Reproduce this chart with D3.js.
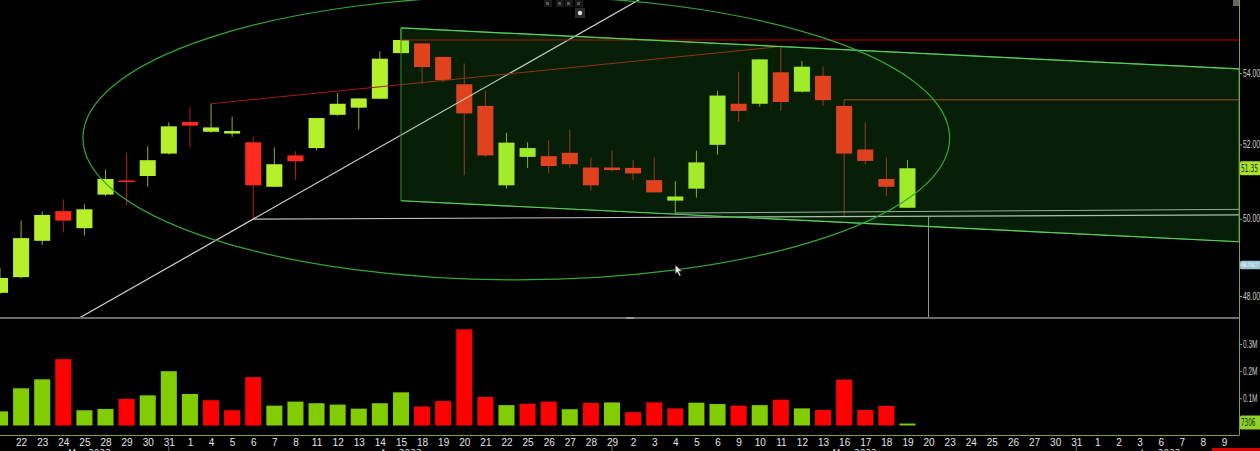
<!DOCTYPE html>
<html>
<head>
<meta charset="utf-8">
<script src="https://cdn.jsdelivr.net/npm/d3@7"></script>
<style>
  html, body { margin: 0; padding: 0; background: #000; overflow: hidden; }
  svg { display: block; font-family: 'DejaVu Sans Condensed', 'DejaVu Sans', sans-serif; }
</style>
</head>
<body>
<svg id="chart" width="1260" height="451"></svg>
<script>
// trading days on the axis (Mar 21 -> Jun 9 2022), candles stop at May 19
const days = [21, 22, 23, 24, 25, 28, 29, 30, 31,
  1, 4, 5, 6, 7, 8, 11, 12, 13, 14, 15, 18, 19, 20, 21, 22, 25, 26, 27, 28, 29,
  2, 3, 4, 5, 6, 9, 10, 11, 12, 13, 16, 17, 18, 19, 20, 23, 24, 25, 26, 27, 30, 31,
  1, 2, 3, 6, 7, 8, 9]
const months = ['Mar 2022', 'Apr 2022', 'May 2022', 'Jun 2022']

const opens = [48.08, 48.48, 49.42, 50.20, 49.75, 50.64, 51.02, 51.14, 51.75,
  52.62, 52.35, 52.30, 52.06, 50.85, 51.70, 51.90, 52.82, 53.02, 53.27, 54.57,
  54.85, 54.46, 53.68, 53.07, 50.89, 51.66, 51.68, 51.77, 51.37, 51.37,
  51.36, 51.03, 50.48, 50.80, 51.99, 53.13, 53.13, 54.02, 53.47, 53.92,
  53.07, 51.86, 51.06, 50.29]
const highs = [48.72, 49.95, 50.19, 50.51, 50.38, 51.32, 51.76, 51.95, 52.61,
  53.03, 53.13, 52.77, 52.21, 51.92, 51.81, 52.73, 53.43, 53.28, 54.62, 55.30,
  54.86, 54.47, 54.27, 53.49, 52.32, 52.06, 52.11, 52.41, 51.64, 51.83,
  51.57, 51.64, 51.00, 51.83, 53.49, 54.04, 54.39, 54.76, 54.34, 54.18,
  53.24, 52.61, 51.64, 51.57]
const lows = [48.05, 48.45, 49.31, 49.64, 49.56, 50.60, 50.35, 50.85, 51.72,
  51.91, 52.32, 52.21, 49.99, 50.84, 51.04, 51.84, 52.79, 52.42, 53.26, 54.56,
  53.69, 53.73, 51.16, 51.66, 50.80, 51.36, 51.21, 51.36, 50.76, 51.27,
  51.03, 50.70, 50.12, 50.56, 51.72, 52.63, 53.05, 52.93, 53.45, 53.08,
  50.04, 51.46, 50.60, 50.29]
const closes = [48.46, 49.49, 50.10, 49.95, 50.25, 51.06, 51.00, 51.57, 52.50,
  52.52, 52.47, 52.37, 50.89, 51.46, 51.54, 52.73, 53.13, 53.28, 54.41, 54.95,
  54.17, 53.80, 52.86, 51.70, 52.05, 51.90, 51.41, 51.46, 50.89, 51.30,
  51.21, 50.70, 50.59, 51.51, 53.36, 52.93, 54.39, 53.18, 54.18, 53.23,
  51.75, 51.55, 50.85, 51.35]
const volumes = [52000, 137000, 170000, 244000, 56000, 61000, 98000, 111000, 200000,
  116000, 93000, 56000, 178000, 73000, 88000, 82000, 77000, 62000, 82000, 122000,
  70000, 90000, 354000, 105000, 75000, 80000, 88000, 60000, 83000, 85000,
  49000, 85000, 63000, 84000, 79000, 73000, 75000, 95000, 63000, 57000,
  169000, 57000, 72000, 7306]

const priceTicks = [48, 50, 52, 54]
const volumeTicks = [100000, 200000, 300000]
const cursorPrice = 48.7917

// drawings, anchored as [bar index, price]
const supportRay = [[12, 49.99], [22, 53.26]]
const highTrend = [[10, 53.13], [37, 54.76]]
const redLevel = [19, 54.95]
const orangeLevel = [40, 53.24]
const flatA = [[12, 49.99], [58, 50.10]]
const flatB = [[32, 50.15], [58, 50.245]]
const channelTop = [[19, 55.30], [37, 54.76]]
const channelLowAnchor = [32, 50.12]
const ellipseBox = { i0: 3.93, i1: 45, pTop: 56.24, pBottom: 48.41 }
const markerIndex = 44

const W = 1260
const axisX = 1239
const priceBottom = 318
const volBase = 425.5
const axisY = 435

const svg = d3.select('#chart')
svg.append('rect').attr('width', W).attr('height', 451).attr('fill', '#000')

const x = d3.scaleLinear().domain([0, days.length - 1]).range([0, 1224])
const step = x(1) - x(0)
const bw = step * 0.76
const y = d3.scaleLog().domain([48, 54]).range([296, 73])
const yv = d3.scaleLinear().domain([0, 300000]).range([volBase, 344])

const defs = svg.append('defs')
defs.append('clipPath').attr('id', 'pclip')
  .append('rect').attr('x', 0).attr('y', 0).attr('width', axisX).attr('height', priceBottom)
defs.append('clipPath').attr('id', 'vclip')
  .append('rect').attr('x', 0).attr('y', priceBottom + 1).attr('width', axisX).attr('height', axisY - priceBottom - 1)

const candles = closes.map((c, i) => ({
  i, o: opens[i], h: highs[i], l: lows[i], c, v: volumes[i],
  up: c >= opens[i],
  volUp: i === 0 || c >= closes[i - 1]
}))

// ---- price panel
const pg = svg.append('g').attr('clip-path', 'url(#pclip)')

const pt = (d) => [x(d[0]), y(d[1])]
const lineThrough = (a, b, x0, x1) => {
  const [ax, ay] = pt(a)
  const [bx, by] = pt(b)
  const k = (by - ay) / (bx - ax)
  return [[x0, ay + k * (x0 - ax)], [x1, ay + k * (x1 - ax)]]
}

const wicks = pg.append('g')
wicks.selectAll('line')
  .data(candles)
  .join('line')
  .attr('x1', d => x(d.i))
  .attr('x2', d => x(d.i))
  .attr('y1', d => y(d.h))
  .attr('y2', d => y(d.l))
  .attr('stroke', d => d.up ? '#8fae2a' : '#b02418')
  .attr('stroke-width', 1)

pg.append('g').selectAll('rect')
  .data(candles)
  .join('rect')
  .attr('x', d => x(d.i) - bw / 2)
  .attr('y', d => y(Math.max(d.o, d.c)))
  .attr('width', bw)
  .attr('height', d => Math.max(1.5, Math.abs(y(d.o) - y(d.c))))
  .attr('fill', d => d.up ? '#b6f02c' : '#ff2a1e')

// white ray from the Apr 6 low
const ray = lineThrough(supportRay[0], supportRay[1], 0, axisX)
pg.append('path').attr('d', d3.line()(ray))
  .attr('stroke', '#d2d2d2').attr('stroke-width', 1.2).attr('fill', 'none')

// nearly flat support lines
const fa = lineThrough(flatA[0], flatA[1], x(flatA[0][0]), axisX)
pg.append('path').attr('d', d3.line()(fa))
  .attr('stroke', '#bdbdbd').attr('stroke-width', 1.2).attr('fill', 'none')
const fb = lineThrough(flatB[0], flatB[1], x(flatB[0][0]), axisX)
pg.append('path').attr('d', d3.line()(fb))
  .attr('stroke', '#a8a8a8').attr('stroke-width', 1).attr('fill', 'none')
pg.append('line')
  .attr('x1', x(markerIndex)).attr('x2', x(markerIndex))
  .attr('y1', fa[0][1] + (fa[1][1] - fa[0][1]) * (x(markerIndex) - fa[0][0]) / (fa[1][0] - fa[0][0]))
  .attr('y2', priceBottom)
  .attr('stroke', '#9a9a9a').attr('stroke-width', 1)

// red / orange levels and the high trend line
pg.append('line')
  .attr('x1', x(redLevel[0])).attr('x2', axisX)
  .attr('y1', y(redLevel[1])).attr('y2', y(redLevel[1]))
  .attr('stroke', '#b80000').attr('stroke-width', 1)
pg.append('line')
  .attr('x1', x(orangeLevel[0])).attr('x2', axisX)
  .attr('y1', y(orangeLevel[1])).attr('y2', y(orangeLevel[1]))
  .attr('stroke', '#b23c12').attr('stroke-width', 1)
pg.append('path').attr('d', d3.line()(highTrend.map(pt)))
  .attr('stroke', '#a01c0c').attr('stroke-width', 1).attr('fill', 'none')

// channel
const chTop = lineThrough(channelTop[0], channelTop[1], x(channelTop[0][0]), axisX)
const kTop = (chTop[1][1] - chTop[0][1]) / (chTop[1][0] - chTop[0][0])
const off = y(channelLowAnchor[1]) - (chTop[0][1] + kTop * (x(channelLowAnchor[0]) - chTop[0][0]))
const poly = [chTop[0], chTop[1], [chTop[1][0], chTop[1][1] + off], [chTop[0][0], chTop[0][1] + off]]
pg.append('path').attr('d', d3.line()(poly) + 'Z')
  .attr('fill', 'rgb(35,213,35)').attr('fill-opacity', 0.14)
  .attr('stroke', '#2f8f2f').attr('stroke-width', 1)
pg.append('path').attr('d', d3.line()(chTop))
  .attr('stroke', '#5ccc5c').attr('stroke-width', 1.2).attr('fill', 'none')
pg.append('path').attr('d', d3.line()(poly.slice(2)))
  .attr('stroke', '#5ccc5c').attr('stroke-width', 1.2).attr('fill', 'none')

// ellipse
const ex0 = x(ellipseBox.i0)
const ex1 = x(ellipseBox.i1)
const ey0 = y(ellipseBox.pTop)
const ey1 = y(ellipseBox.pBottom)
pg.append('ellipse')
  .attr('cx', (ex0 + ex1) / 2).attr('cy', (ey0 + ey1) / 2)
  .attr('rx', (ex1 - ex0) / 2).attr('ry', (ey1 - ey0) / 2)
  .attr('fill', 'none').attr('stroke', '#34a834').attr('stroke-width', 1.2)

// mouse cursor
const cy = y(cursorPrice)
const cx = x(32)
svg.append('path')
  .attr('d', `M${cx},${cy} l0,9 l2,-2 l2,4 l1.5,-0.8 l-2,-4 l3,0 Z`)
  .attr('fill', '#eee').attr('stroke', '#222').attr('stroke-width', 0.5)

// ---- volume panel
const vg = svg.append('g').attr('clip-path', 'url(#vclip)')
vg.selectAll('rect')
  .data(candles)
  .join('rect')
  .attr('x', d => x(d.i) - bw / 2)
  .attr('y', d => Math.min(yv(d.v), volBase - 1.2))
  .attr('width', bw)
  .attr('height', d => Math.max(1.2, volBase - yv(d.v)))
  .attr('fill', d => d.volUp ? '#82cc02' : '#ff0000')

// ---- separators and axes
svg.append('line').attr('x1', 0).attr('x2', axisX).attr('y1', priceBottom).attr('y2', priceBottom)
  .attr('stroke', '#6c6c6c').attr('stroke-width', 2)
svg.append('rect').attr('x', 626).attr('y', priceBottom - 1).attr('width', 8).attr('height', 2).attr('fill', '#999')
svg.append('line').attr('x1', axisX + 0.5).attr('x2', axisX + 0.5).attr('y1', 0).attr('y2', axisY)
  .attr('stroke', '#8a9a34').attr('stroke-width', 1)
svg.append('line').attr('x1', 0).attr('x2', axisX + 0.5).attr('y1', axisY + 0.5).attr('y2', axisY + 0.5)
  .attr('stroke', '#8a9a34').attr('stroke-width', 1)

// right-axis labels are squeezed into the narrow strip past the axis line
const squeeze = (sel) => sel
  .attr('textLength', function () { return Math.min(17, this.textContent.length * 3.6) })
  .attr('lengthAdjust', 'spacingAndGlyphs')

const styleAxis = (g) => {
  g.select('.domain').remove()
  g.selectAll('.tick line').attr('stroke', '#9aa84a')
  g.selectAll('.tick text').attr('fill', '#cfcfcf').attr('font-size', 10).call(squeeze)
}

svg.append('g')
  .attr('transform', `translate(${axisX},0)`)
  .call(d3.axisRight(y).tickValues(priceTicks).tickFormat(d3.format('.2f')).tickSize(3).tickPadding(1))
  .call(styleAxis)

svg.append('g')
  .attr('transform', `translate(${axisX},0)`)
  .call(d3.axisRight(yv).tickValues(volumeTicks).tickFormat(d => d3.format('.1f')(d / 1e6) + 'M').tickSize(3).tickPadding(1))
  .call(styleAxis)

svg.append('g')
  .attr('transform', `translate(0,${axisY})`)
  .call(d3.axisBottom(x).tickValues(d3.range(1, days.length)).tickFormat(i => days[i]).tickSize(0).tickPadding(4))
  .call(g => {
    g.select('.domain').remove()
    g.selectAll('.tick text').attr('fill', '#e4e4e4').attr('font-size', 10)
  })

// month captions, centred on each month's visible span
let monthIdx = 0
const spans = [{ start: 0, end: 0 }]
days.forEach((d, i) => {
  if (i > 0 && d < days[i - 1]) {
    monthIdx++
    spans.push({ start: i, end: i })
  }
  spans[monthIdx].end = i
})
spans.forEach((s, k) => {
  const a = Math.max(0, x(s.start) - step / 2)
  const b = Math.min(axisX, x(s.end) + step / 2)
  svg.append('text')
    .attr('x', (a + b) / 2).attr('y', 457)
    .attr('text-anchor', 'middle')
    .attr('fill', '#cfcfcf').attr('font-size', 10)
    .text(months[k])
  if (k < spans.length - 1) {
    svg.append('line')
      .attr('x1', x(s.end)).attr('x2', x(s.end)).attr('y1', 446).attr('y2', 451)
      .attr('stroke', '#666').attr('stroke-width', 1)
  }
})

// value flags on the right axis
const flag = (yy, txt, fill, color, size) => {
  svg.append('rect').attr('x', axisX + 1).attr('y', yy - size * 0.7).attr('width', 22).attr('height', size * 1.4)
    .attr('rx', 1.5).attr('fill', fill)
  svg.append('text').attr('x', axisX + 2).attr('y', yy + size * 0.35)
    .attr('font-size', size).attr('fill', color).text(txt)
    .call(squeeze)
}
const last = candles[candles.length - 1]
flag(y(last.c), d3.format('.2f')(last.c), '#a8e22c', '#1c3000', 10)
flag(yv(last.v) - 1, String(last.v), '#8fd12a', '#1c3000', 10)
flag(cy, String(cursorPrice), '#9cc4d4', '#ffffff', 6)

// terminal chrome
const tb = svg.append('g')
;[547, 559, 568, 578].forEach(px => {
  tb.append('rect').attr('x', px - 3).attr('y', 0).attr('width', 8).attr('height', 7).attr('fill', '#1a1a1a')
  tb.append('rect').attr('x', px - 1).attr('y', 2).attr('width', 3).attr('height', 3).attr('fill', '#555')
})
tb.append('rect').attr('x', 575).attr('y', 8).attr('width', 10).attr('height', 10).attr('fill', '#2a2a2a')
tb.append('circle').attr('cx', 580).attr('cy', 13).attr('r', 2.2).attr('fill', '#ddd')
svg.append('rect').attr('x', 1233).attr('y', 0).attr('width', 6).attr('height', 6).attr('fill', '#666')
svg.append('rect').attr('x', 1212).attr('y', 448).attr('width', 48).attr('height', 3).attr('fill', '#d40000')
</script>
</body>
</html>
